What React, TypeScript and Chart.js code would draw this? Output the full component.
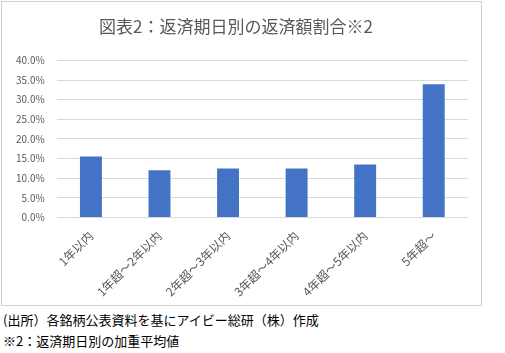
import React, { useEffect, useRef } from "react";
import { Chart, registerables } from "chart.js";

Chart.register(...registerables);

const categories = ["1年以内", "1年超～2年以内", "2年超～3年以内", "3年超～4年以内", "4年超～5年以内", "5年超～"];
const shares = [15.5, 12.0, 12.5, 12.5, 13.5, 33.9];
const titleText = "図表2：返済期日別の返済額割合※2";
const notes = ["(出所）各銘柄公表資料を基にアイビー総研（株）作成", "※2：返済期日別の加重平均値"];

const FONT = '"Noto Sans CJK JP", "Noto Sans", sans-serif';

const frame = {
  id: "frame",
  beforeDraw(chart: any) {
    const ctx = chart.ctx;
    ctx.save();
    ctx.fillStyle = "#ffffff";
    ctx.fillRect(0, 0, chart.width, chart.height);
    ctx.strokeStyle = "#d0d0d0";
    ctx.lineWidth = 1;
    ctx.strokeRect(0.5, 0.5, chart.width - 1, chart.height - 1);
    ctx.restore();
  },
};

export default function App() {
  const ref = useRef<HTMLCanvasElement | null>(null);
  useEffect(() => {
    if (!ref.current) return;
    const chart = new Chart(ref.current, {
      type: "bar",
      data: {
        labels: categories,
        datasets: [
          {
            data: shares,
            backgroundColor: "#4472c4",
            barPercentage: 0.32,
            categoryPercentage: 1,
          },
        ],
      },
      plugins: [frame],
      options: {
        animation: false,
        responsive: false,
        maintainAspectRatio: false,
        layout: { padding: { left: 3, right: 14, top: 1, bottom: 4 } },
        plugins: {
          legend: { display: false },
          tooltip: { enabled: false },
          title: {
            display: true,
            text: titleText,
            color: "#595959",
            font: { family: FONT, size: 17, weight: "normal" },
            padding: { top: 14, bottom: 24 },
          },
        },
        scales: {
          x: {
            grid: { display: false },
            border: { display: false },
            ticks: {
              color: "#595959",
              font: { family: FONT, size: 12 },
              maxRotation: 45,
              minRotation: 45,
              padding: 3,
            },
          },
          y: {
            min: 0,
            max: 40,
            border: { display: false },
            grid: { color: "#d9d9d9", drawTicks: false },
            ticks: {
              stepSize: 5,
              color: "#595959",
              font: { family: FONT, size: 10 },
              padding: 12,
              callback: (v: any) => Number(v).toFixed(1) + "%",
            },
          },
        },
      },
    });
    return () => chart.destroy();
  }, []);

  return (
    <div style={{ position: "absolute", left: 0, top: 0, width: 505, height: 353, background: "#fff" }}>
      <canvas
        ref={ref}
        width={481}
        height={305}
        style={{ display: "block", position: "absolute", left: 1, top: 1 }}
      />
      <div
        style={{
          position: "absolute",
          left: 3,
          top: 309,
          fontFamily: FONT,
          fontSize: 13,
          lineHeight: "21px",
          color: "#000",
          whiteSpace: "nowrap",
        }}
      >
        <div>{notes[0]}</div>
        <div>{notes[1]}</div>
      </div>
    </div>
  );
}
